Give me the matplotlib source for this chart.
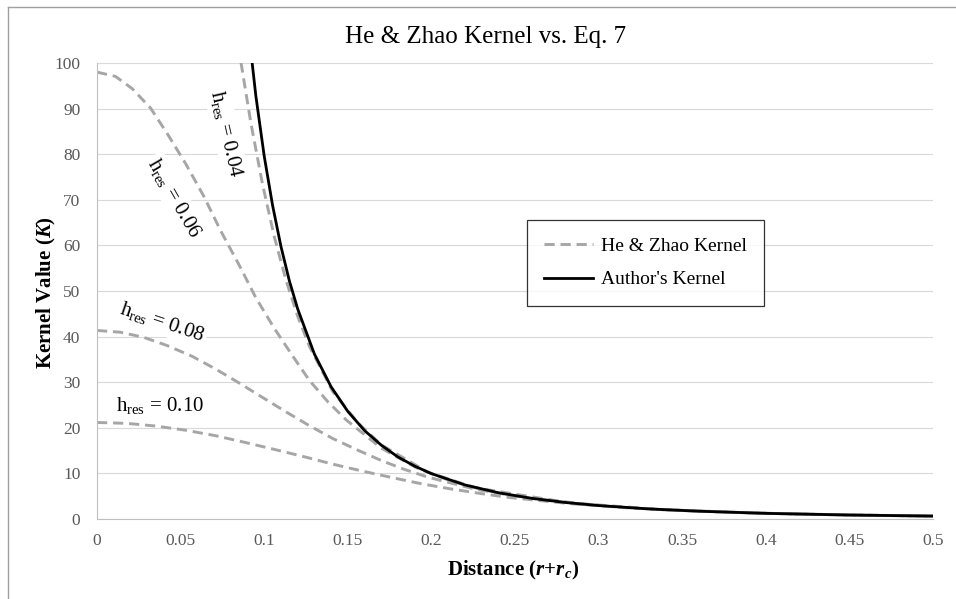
import matplotlib
matplotlib.use("Agg")
import matplotlib.pyplot as plt
from matplotlib.lines import Line2D

plt.rcParams['font.family'] = ['Liberation Serif', 'DejaVu Serif']
plt.rcParams['mathtext.fontset'] = 'custom'
plt.rcParams['mathtext.rm'] = 'Liberation Serif'
plt.rcParams['mathtext.it'] = 'Liberation Serif:italic'
plt.rcParams['mathtext.bf'] = 'Liberation Serif:bold'
plt.rcParams['mathtext.bfit'] = 'Liberation Serif:italic:bold'

# He & Zhao kernel for each h_res
x_h04 = [0.071, 0.078, 0.085, 0.092, 0.099, 0.106, 0.113, 0.120, 0.127, 0.141,
         0.156, 0.170, 0.198, 0.226, 0.283, 0.339, 0.396, 0.453, 0.5]
k_h04 = [141.2, 120.7, 102.6, 86.9, 73.4, 61.96, 52.4, 44.49, 37.9, 27.96,
         21.10, 16.26, 10.25, 6.87, 3.52, 2.04, 1.28, 0.86, 0.64]

x_h06 = [0.0, 0.011, 0.021, 0.032, 0.042, 0.053, 0.064, 0.074, 0.085, 0.095,
         0.106, 0.117, 0.127, 0.138, 0.149, 0.170, 0.191, 0.212, 0.233, 0.255,
         0.297, 0.339, 0.38, 0.424, 0.5]
k_h06 = [98.0, 97.07, 94.40, 90.13, 84.53, 77.94, 70.69, 63.18, 55.70, 48.52,
         41.84, 35.77, 30.40, 25.74, 21.74, 15.54, 11.24, 8.28, 6.25, 4.82,
         3.04, 2.04, 1.45, 1.04, 0.64]

x_h08 = [0.0, 0.014, 0.028, 0.042, 0.057, 0.071, 0.085, 0.099, 0.113, 0.127,
         0.141, 0.156, 0.170, 0.184, 0.198, 0.226, 0.255, 0.283, 0.311, 0.339,
         0.396, 0.453, 0.5]
k_h08 = [41.35, 40.96, 39.83, 38.03, 35.66, 32.88, 29.83, 26.66, 23.50, 20.47,
         17.65, 15.09, 12.83, 10.86, 9.17, 6.56, 4.74, 3.50, 2.64, 2.03,
         1.28, 0.86, 0.64]

x_h10 = [0.0, 0.018, 0.035, 0.053, 0.071, 0.088, 0.106, 0.124, 0.141, 0.159,
         0.177, 0.194, 0.212, 0.230, 0.247, 0.283, 0.318, 0.354, 0.389, 0.424,
         0.460, 0.5]
k_h10 = [21.17, 20.97, 20.39, 19.47, 18.26, 16.84, 15.27, 13.65, 12.03, 10.48,
         9.04, 7.73, 6.57, 5.56, 4.70, 3.36, 2.43, 1.79, 1.35, 1.04,
         0.82, 0.64]

# Author's kernel (Eq. 7)
x_auth = [0.09, 0.095, 0.10, 0.105, 0.11, 0.115, 0.12, 0.13, 0.14, 0.15,
          0.16, 0.17, 0.18, 0.19, 0.20, 0.22, 0.24, 0.26, 0.28, 0.30,
          0.33, 0.36, 0.40, 0.45, 0.50]
k_auth = [109.2, 92.8, 79.6, 68.8, 59.8, 52.3, 46.1, 36.2, 29.0, 23.6,
          19.4, 16.2, 13.6, 11.6, 9.95, 7.48, 5.76, 4.53, 3.63, 2.95,
          2.21, 1.71, 1.24, 0.87, 0.64]

h_labels = ['0.04', '0.06', '0.08', '0.10']
x_ticks = [0, 0.05, 0.1, 0.15, 0.2, 0.25, 0.3, 0.35, 0.4, 0.45, 0.5]
x_ticklabels = ['0', '0.05', '0.1', '0.15', '0.2', '0.25', '0.3', '0.35', '0.4', '0.45', '0.5']
y_ticks = list(range(0, 101, 10))

fig = plt.figure(figsize=(9.56, 5.99), dpi=100)
ax = fig.add_axes([97/956, 1-519/599, 836/956, 456/599])

dash_kw = dict(color='#a6a6a6', lw=2.1, dashes=(3.5, 2.0), dash_capstyle='butt')
ax.plot(x_h04, k_h04, label='He & Zhao Kernel', **dash_kw)
ax.plot(x_h06, k_h06, **dash_kw)
ax.plot(x_h08, k_h08, **dash_kw)
ax.plot(x_h10, k_h10, **dash_kw)
ax.plot(x_auth, k_auth, color='black', lw=2.0, label="Author's Kernel")

ax.set_xlim(0, 0.5)
ax.set_ylim(0, 100)
ax.set_xticks(x_ticks)
ax.set_xticklabels(x_ticklabels)
ax.set_yticks(y_ticks)
ax.tick_params(length=0, labelsize=12.5, labelcolor='#595959')
ax.tick_params(axis='x', pad=10)
ax.tick_params(axis='y', pad=12)
ax.grid(axis='y', color='#d9d9d9', lw=0.8)
ax.set_axisbelow(True)
for s in ['top', 'right']:
    ax.spines[s].set_visible(False)
for s in ['left', 'bottom']:
    ax.spines[s].set_color('#bfbfbf')
    ax.spines[s].set_linewidth(0.8)

# curve labels (text boxes with white fill, they hide the gridlines behind them)
lab_pos = [(0.0775, 84.4, -77), (0.0463, 70.5, -60), (0.0389, 43.2, -18.5), (0.0377, 25.0, 0)]
for h, (lx, ly, rot) in zip(h_labels, lab_pos):
    ax.text(lx, ly, r'$\mathrm{h_{res}}$ = ' + h, fontsize=15, rotation=rot,
            rotation_mode='anchor', ha='center', va='center', color='black',
            zorder=1.5, bbox=dict(facecolor='white', edgecolor='none', pad=2))

fig.text(486/956, 1-37/599, 'He & Zhao Kernel vs. Eq. 7', fontsize=18,
         ha='center', va='center')
fig.text(513/956, 1-570/599, r'Distance ($\mathbfit{r}$+$\mathbfit{r}_{\mathbfit{c}}$)',
         fontsize=15, fontweight='bold', ha='center', va='center')
fig.text(46/956, 1-293/599, r'Kernel Value ($\mathbfit{K}$)', fontsize=15,
         fontweight='bold', rotation=90, ha='center', va='center')

leg = ax.legend(loc='center', bbox_to_anchor=(645.5/956, 1-263/599),
                bbox_transform=fig.transFigure, fontsize=14, frameon=True,
                fancybox=False, edgecolor='black', handlelength=2.5,
                handletextpad=0.4, labelspacing=0.8, borderpad=0.9)
leg.get_frame().set_linewidth(0.9)

# chart-area border (left and top visible)
fig.add_artist(Line2D([8/956, 8/956], [0, 1-7/599], transform=fig.transFigure,
                      color='#a0a0a0', lw=1.0))
fig.add_artist(Line2D([8/956, 1], [1-7/599, 1-7/599], transform=fig.transFigure,
                      color='#a0a0a0', lw=1.0))

fig.savefig('out.png', dpi=100)
